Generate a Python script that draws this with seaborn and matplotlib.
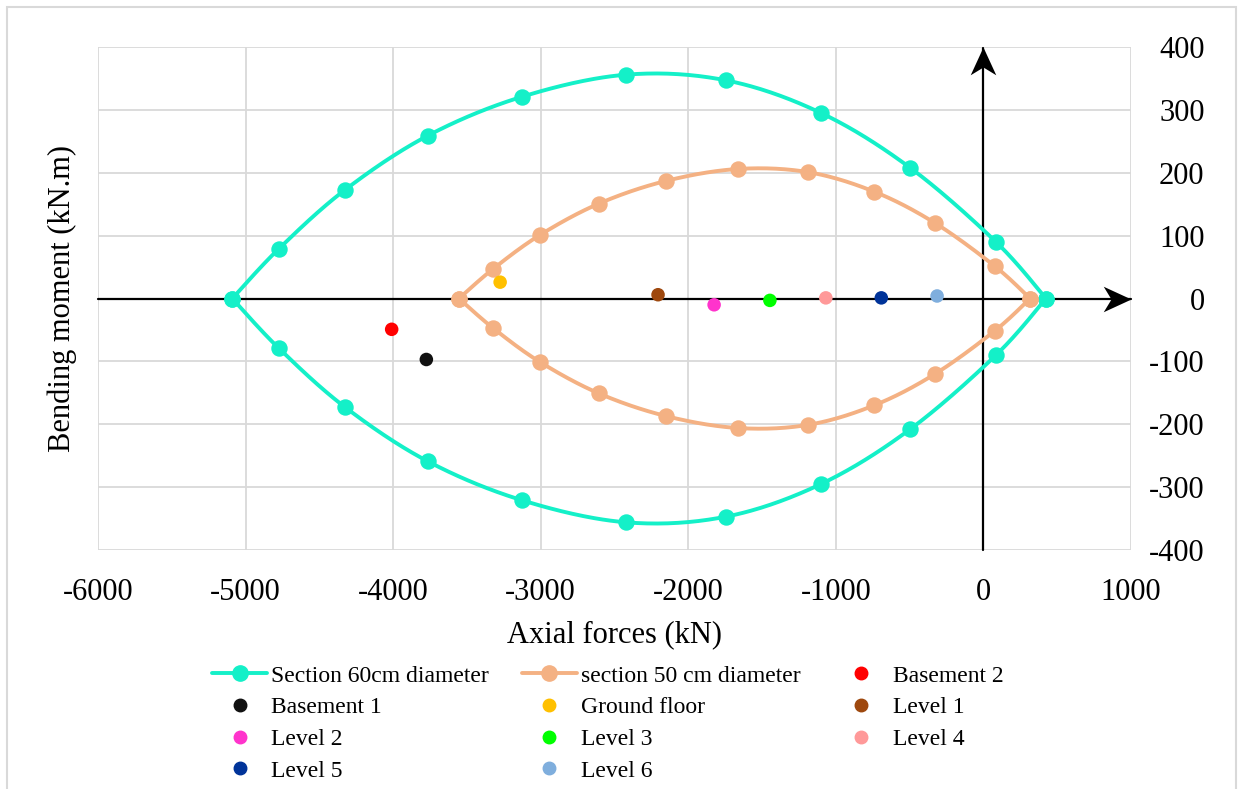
import numpy as np
import pandas as pd
import seaborn as sns
import matplotlib.pyplot as plt
from matplotlib.lines import Line2D
from matplotlib.patches import Rectangle
from matplotlib.path import Path

# Interaction diagram, 60 cm section (upper half; lower half is its mirror)
axial_60 = [-5090, -4775, -4325, -3765, -3125, -2420, -1745, -1100, -497, 85, 424]
moment_60 = [0, 79, 173, 259, 321, 356, 347, 295, 208, 90, 0]

# Interaction diagram, 50 cm section
axial_50 = [-3554, -3323, -3005, -2605, -2151, -1663, -1189, -741, -328, 79, 316]
moment_50 = [0, 47, 101, 151, 187, 206, 201, 170, 120, 51, 0]

# Column loads per storey
load_names = ["Basement 2", "Basement 1", "Ground floor", "Level 1", "Level 2",
              "Level 3", "Level 4", "Level 5", "Level 6"]
load_axial = [-4010, -3775, -3275, -2205, -1825, -1447, -1068, -692, -314]
load_moment = [-49, -97, 26, 6, -10, -3, 1, 1, 4]
load_colors = ["#FF0000", "#111111", "#FFC000", "#9E480E", "#FF33CC",
               "#00FF00", "#FF9999", "#003399", "#7FAEDD"]

x_ticks = list(range(-6000, 1001, 1000))
y_ticks = list(range(-400, 401, 100))

color_60 = "#14F0C8"
color_50 = "#F4B183"

sns.set_theme(style="white")
plt.rcParams["font.family"] = ["Liberation Serif", "DejaVu Serif"]
plt.rcParams["axes.unicode_minus"] = False
for key in ("text.color", "axes.labelcolor", "xtick.color", "ytick.color"):
    plt.rcParams[key] = "black"


def smooth_curve(xs, ys, steps=40):
    """Cubic Bezier smoothing through every point (spreadsheet-style smooth line)."""
    p = np.column_stack([xs, ys]).astype(float)
    ext = np.vstack([p[0], p, p[-1]])
    out = []
    t = np.linspace(0, 1, steps)[:, None]
    for i in range(len(p) - 1):
        p0, p3 = ext[i + 1], ext[i + 2]
        c1 = p0 + (ext[i + 2] - ext[i]) / 6.0
        c2 = p3 - (ext[i + 3] - ext[i + 1]) / 6.0
        seg = ((1 - t) ** 3) * p0 + 3 * ((1 - t) ** 2) * t * c1 + 3 * (1 - t) * t ** 2 * c2 + t ** 3 * p3
        out.append(seg if i == 0 else seg[1:])
    pts = np.vstack(out)
    return pts[:, 0], pts[:, 1]


# stealth-style arrow heads with the tip at the marker origin
head_right = Path([(0, 0), (-1, 0.46), (-0.72, 0), (-1, -0.46), (0, 0)],
                  [Path.MOVETO, Path.LINETO, Path.LINETO, Path.LINETO, Path.CLOSEPOLY])
head_up = Path([(0, 0), (0.46, -1), (0, -0.72), (-0.46, -1), (0, 0)],
               [Path.MOVETO, Path.LINETO, Path.LINETO, Path.LINETO, Path.CLOSEPOLY])

fig = plt.figure(figsize=(12.39, 7.89), dpi=100)
ax = fig.add_axes([98 / 1239, 1 - 550 / 789, (1131 - 98) / 1239, (550 - 47) / 789])

# axis arrows through the origin
ax.plot([-6000, 998], [0, 0], color="black", lw=1.6, zorder=2, clip_on=False)
ax.plot([0, 0], [-400, 398], color="black", lw=1.6, zorder=2, clip_on=False)
ax.plot([1000], [0], marker=head_right, ms=40, color="black", mew=0, ls="",
        zorder=2, clip_on=False)
ax.plot([0], [400], marker=head_up, ms=40, color="black", mew=0, ls="",
        zorder=2, clip_on=False)

for axial, moment, col in [(axial_60, moment_60, color_60), (axial_50, moment_50, color_50)]:
    for sign in (1, -1):
        m = [sign * v for v in moment]
        sx, sy = smooth_curve(axial, m)
        curve = pd.DataFrame({"N": sx, "M": sy})
        sns.lineplot(data=curve, x="N", y="M", sort=False, color=col, lw=2.8,
                     ax=ax, zorder=3, estimator=None)
        pts = pd.DataFrame({"N": axial, "M": m})
        sns.scatterplot(data=pts, x="N", y="M", color=col, s=140, linewidth=0,
                        ax=ax, zorder=4)

loads = pd.DataFrame({"N": load_axial, "M": load_moment, "name": load_names})
sns.scatterplot(data=loads, x="N", y="M", hue="name", palette=load_colors,
                hue_order=load_names, s=95, linewidth=0, ax=ax, zorder=5, legend=False)

ax.set_xlim(-6000, 1000)
ax.set_ylim(-400, 400)
ax.set_xticks(x_ticks)
ax.set_yticks(y_ticks)
ax.grid(True, color="#D9D9D9", lw=1.3)
ax.set_axisbelow(True)
for s in ax.spines.values():
    s.set_visible(False)

ax.yaxis.tick_right()
ax.tick_params(axis="y", length=0, pad=53, labelsize=22)
ax.tick_params(axis="x", length=0, pad=20, labelsize=22)
plt.setp(ax.get_yticklabels(), ha="right")
ax.set_xlabel("Axial forces (kN)", fontsize=22, labelpad=10)
ax.set_ylabel("Bending moment (kN.m)", fontsize=22, labelpad=15)
ax.yaxis.set_label_position("left")

# legend laid out row by row in three columns
h60 = Line2D([], [], color=color_60, lw=2.8, marker="o", ms=11)
h50 = Line2D([], [], color=color_50, lw=2.8, marker="o", ms=11)
hl = [Line2D([], [], ls="", marker="o", color=c, ms=9) for c in load_colors]
col1 = [(h60, "Section 60cm diameter"), (hl[1], load_names[1]), (hl[4], load_names[4]), (hl[7], load_names[7])]
col2 = [(h50, "section 50 cm diameter"), (hl[2], load_names[2]), (hl[5], load_names[5]), (hl[8], load_names[8])]
col3 = [(hl[0], load_names[0]), (hl[3], load_names[3]), (hl[6], load_names[6])]
entries = col1 + col2 + col3
fig.legend([e[0] for e in entries], [e[1] for e in entries], ncol=3,
           loc="upper center", bbox_to_anchor=(608 / 1239, 1 - 665 / 789),
           frameon=False, fontsize=17, handlelength=2.3, handletextpad=0.2,
           columnspacing=1.4, labelspacing=0.43, borderpad=0, borderaxespad=0)

# chart frame
fig.patches.append(Rectangle((7 / 1239, -0.02), 1229 / 1239, 1 - 7 / 789 + 0.02,
                             transform=fig.transFigure, fill=False,
                             edgecolor="#D9D9D9", lw=1.5))

fig.savefig("out.png", dpi=100)
